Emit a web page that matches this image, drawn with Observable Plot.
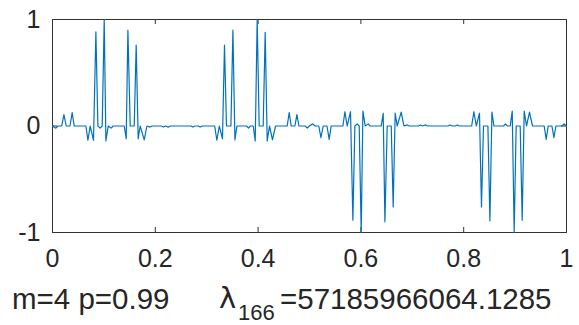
<!DOCTYPE html>
<html><head><meta charset="utf-8">
<script src="https://cdn.jsdelivr.net/npm/d3@7"></script>
<script src="https://cdn.jsdelivr.net/npm/@observablehq/plot@0.6"></script>
<style>
body{margin:0;background:#fff;}
#wrap{position:relative;width:579px;height:325px;overflow:hidden;font-family:"Liberation Sans",Arial,sans-serif;color:#262626;background:#fff}
#cap{position:absolute;left:0;top:275px;width:579px;height:50px;}
#cap span{position:absolute;white-space:pre;line-height:1;}
</style></head><body>
<div id="wrap"><div id="chart"></div>
<div id="cap">
<span style="left:12px;top:9px;font-size:29.5px">m=4 p=0.99</span>
<span style="left:219px;top:9px;font-size:29px;font-family:'DejaVu Sans'">λ</span>
<span style="left:238px;top:27px;font-size:22px">166</span>
<span style="left:280px;top:9px;font-size:29.5px">=57185966064.1285</span>
</div></div>
<script>
// first half of the signal (x in [0, 0.5])
const xFirst = [0, 0.0064, 0.011, 0.018, 0.0222, 0.0267, 0.034, 0.0383, 0.0422, 0.065, 0.0689, 0.0733, 0.0798, 0.0844, 0.0883, 0.0928, 0.0967, 0.1006, 0.1039, 0.1084, 0.1142, 0.118, 0.1395, 0.1434, 0.1467, 0.1512, 0.159, 0.1628, 0.1667, 0.1706, 0.1784, 0.1837, 0.190, 0.194, 0.2117, 0.2157, 0.2197, 0.2257, 0.2297, 0.2693, 0.2733, 0.2773, 0.2833, 0.2873, 0.2913, 0.3155, 0.3198, 0.3245, 0.3307, 0.3346, 0.3385, 0.3471, 0.351, 0.3549, 0.3588, 0.3775, 0.3813, 0.385, 0.3905, 0.3944, 0.3982, 0.4021, 0.4099, 0.4138, 0.4177, 0.4222, 0.428, 0.4339, 0.4566, 0.4605, 0.4644, 0.4716, 0.4755, 0.4794, 0.4915, 0.4955, 0.4995];
const yFirst = [0, -0.02, 0, 0, 0.107, 0, 0, 0.126, 0, 0, -0.134, 0, -0.134, 0.883, 0, -0.02, 0, 1.0, -0.14, 0, -0.02, 0, 0, -0.12, 0.9, 0, 0, 0.76, -0.12, 0, -0.13, 0, -0.01, 0, 0, -0.01, 0, -0.01, 0, 0, -0.01, 0, 0, -0.01, 0, 0, -0.134, 0, -0.12, 0.76, 0, 0, 0.9, -0.13, 0, 0, -0.02, 0, 0, -0.14, 1.0, 0, 0, 0.88, -0.14, 0, -0.13, 0, 0, 0.126, 0, 0, 0.107, 0, 0, -0.02, 0];
// second half of the signal (x in [0.5, 1])
const xSecond = [0.5064, 0.511, 0.518, 0.5222, 0.5267, 0.534, 0.5383, 0.5422, 0.565, 0.5689, 0.5733, 0.5798, 0.5844, 0.5883, 0.5928, 0.5967, 0.6006, 0.6039, 0.6084, 0.6142, 0.618, 0.6395, 0.6434, 0.6467, 0.6512, 0.659, 0.6628, 0.6667, 0.6706, 0.6784, 0.6837, 0.69, 0.694, 0.7117, 0.7157, 0.7197, 0.7257, 0.7297, 0.7693, 0.7733, 0.7773, 0.7833, 0.7873, 0.7913, 0.8155, 0.8198, 0.8245, 0.8307, 0.8346, 0.8385, 0.8471, 0.851, 0.8549, 0.8588, 0.8775, 0.8813, 0.885, 0.8905, 0.8944, 0.8982, 0.9021, 0.9099, 0.9138, 0.9177, 0.9222, 0.928, 0.9339, 0.9566, 0.9605, 0.9644, 0.9716, 0.9755, 0.9794, 0.9915, 0.9955, 1.0];
const ySecond = [0.02, 0, 0, -0.11, 0, 0, -0.126, 0, 0, 0.134, 0, 0.134, -0.885, 0, 0.02, 0, -1.0, 0.14, 0, 0.02, 0, 0, 0.12, -0.9, 0, 0, -0.76, 0.12, 0, 0.13, 0, 0.01, 0, 0, 0.01, 0, 0.01, 0, 0, 0.01, 0, 0, 0.01, 0, 0, 0.134, 0, 0.12, -0.76, 0, 0, -0.89, 0.13, 0, 0, 0.02, 0, 0, 0.14, -1.0, 0, 0, -0.885, 0.14, 0, 0.13, 0, 0, -0.126, 0, 0, -0.11, 0, 0, 0.02, 0];

const xTicks = [0, 0.2, 0.4, 0.6, 0.8, 1];
const xTickLabels = ["0", "0.2", "0.4", "0.6", "0.8", "1"];
const yTicks = [-1, 0, 1];
const yTickLabels = ["-1", "0", "1"];

const xs = xFirst.concat(xSecond);
const ys = yFirst.concat(ySecond);
const points = xs.map((x, i) => ({x, y: ys[i]}));

const W = 579, H = 275, mL = 52, mR = 13, mT = 19, mB = H - 232;
const plotW = W - mL - mR, plotH = H - mT - mB;
const axisColor = "#333333";

const chart = Plot.plot({
  width: W, height: H,
  marginLeft: mL, marginRight: mR, marginTop: mT, marginBottom: mB,
  x: {domain: [0, 1]},
  y: {domain: [-1, 1]},
  style: {fontFamily: '"Liberation Sans", Arial, sans-serif', fontSize: "25px", color: "#262626", background: "white", overflow: "visible"},
  marks: [
    Plot.frame({stroke: axisColor, strokeWidth: 1}),
    Plot.ruleX(xTicks, {x: d => d, insetTop: plotH - 5, stroke: axisColor}),
    Plot.ruleX(xTicks, {x: d => d, insetBottom: plotH - 5, stroke: axisColor}),
    Plot.ruleY(yTicks, {y: d => d, insetRight: plotW - 5, stroke: axisColor}),
    Plot.ruleY(yTicks, {y: d => d, insetLeft: plotW - 5, stroke: axisColor}),
    Plot.axisX({ticks: xTicks, tickSize: 0, tickPadding: 17, tickFormat: d => xTickLabels[xTicks.indexOf(d)], fontSize: 25, label: null}),
    Plot.axisY({ticks: yTicks, tickSize: 0, tickPadding: 12, tickFormat: d => yTickLabels[yTicks.indexOf(d)], fontSize: 25, label: null}),
    Plot.line(points, {x: "x", y: "y", stroke: "#0072BD", strokeWidth: 1.2})
  ]
});
document.getElementById("chart").appendChild(chart);
</script>
</body></html>
